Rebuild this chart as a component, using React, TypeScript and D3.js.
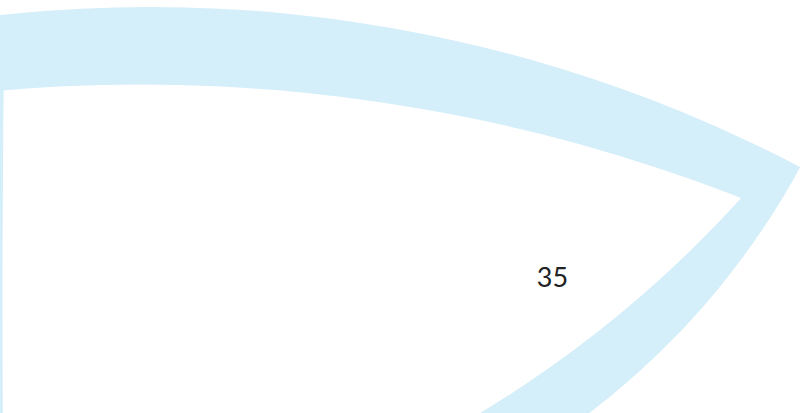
import React from "react"
import * as d3 from "d3"

const width = 806
const height = 413

// venn layout, in layout units (1 unit = 10px on screen)
const bandSets = ["top", "right"]
const bandCx = [15.0, 12.1]
const bandCy = [140.7, -20.2]
const bandR = [140.0, 77.3]

const holeSets = ["top", "right", "left"]
const holeCx = [14.0, -12.55, 2000.25]
const holeCy = [173.46, -58.8, 30.0]
const holeR = [165.0, 117.0, 2000.0]

const labelValues = [35]
const labelX = [55.25]
const labelY = [28.7]

const App = () => {
	const x = d3.scaleLinear().domain([0, 80.6]).range([0, width])
	const y = d3.scaleLinear().domain([0, 41.3]).range([0, height])
	const r = (v: number) => x(v) - x(0)

	const band = bandSets.map((name, i) => ({ name, cx: x(bandCx[i]), cy: y(bandCy[i]), r: r(bandR[i]) }))
	const hole = holeSets.map((name, i) => ({ name, cx: x(holeCx[i]), cy: y(holeCy[i]), r: r(holeR[i]) }))

	return (
		<svg
			width={width}
			height={height}
			style={{ position: "fixed", left: 0, top: 0, background: "#fff" }}
		>
			<defs>
				<clipPath id="band-top">
					<circle cx={band[0].cx} cy={band[0].cy} r={band[0].r} />
				</clipPath>
				<clipPath id="hole-top">
					<circle cx={hole[0].cx} cy={hole[0].cy} r={hole[0].r} />
				</clipPath>
				<clipPath id="hole-left">
					<circle cx={hole[2].cx} cy={hole[2].cy} r={hole[2].r} />
				</clipPath>
			</defs>
			{/* light blue region: intersection of the two outer sets */}
			<circle
				cx={band[1].cx}
				cy={band[1].cy}
				r={band[1].r}
				fill="#d4eefa"
				clipPath="url(#band-top)"
			/>
			{/* white interior */}
			<g clipPath="url(#hole-left)">
				<circle
					cx={hole[1].cx}
					cy={hole[1].cy}
					r={hole[1].r}
					fill="#fff"
					clipPath="url(#hole-top)"
				/>
			</g>
			{labelValues.map((v, i) => (
				<text
					key={i}
					x={x(labelX[i])}
					y={y(labelY[i])}
					textAnchor="middle"
					fontFamily="Lato, sans-serif"
					fontSize={27}
					fill="#222"
				>
					{v}
				</text>
			))}
		</svg>
	)
}

export default App
